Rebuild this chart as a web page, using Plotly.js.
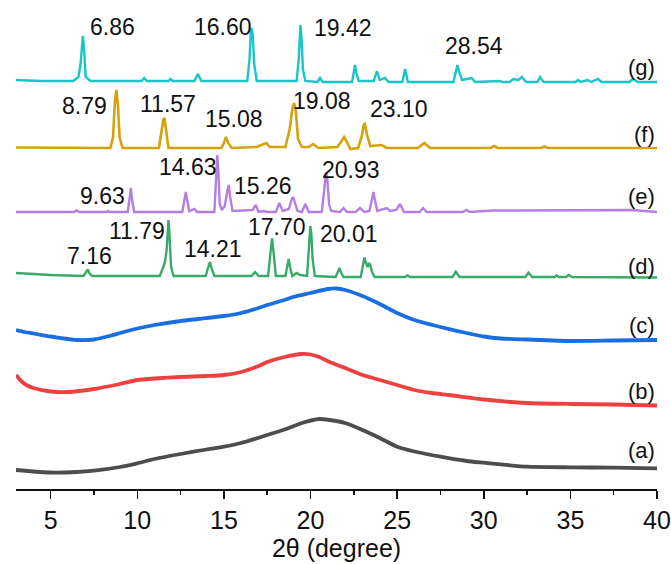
<!DOCTYPE html>
<html>
<head>
<meta charset="utf-8">
<script src="https://cdn.plot.ly/plotly-3.0.1.min.js"></script>
<style>html,body{margin:0;padding:0;background:#fff;}#chart{width:671px;height:564px;}</style>
</head>
<body>
<div id="chart"></div>
<script>
// (g)
const gX = [3, 4.5, 6.3, 6.6, 6.72, 6.8, 6.86, 6.93, 7.02, 7.3, 10.25, 10.4, 10.55, 11.8, 11.92, 12.05, 13.3, 13.5, 13.7, 16.35, 16.48, 16.55, 16.6, 16.66, 16.75, 16.9, 19.2, 19.32, 19.38, 19.42, 19.48, 19.56, 19.7, 20.4, 20.55, 20.7, 22.4, 22.5, 22.57, 22.65, 22.78, 23.65, 23.83, 24.0, 24.3, 24.5, 25.3, 25.46, 25.62, 28.25, 28.4, 28.48, 28.56, 28.75, 29.3, 29.5, 30.9, 31.1, 31.5, 31.7, 32.0, 32.2, 32.45, 33.1, 33.25, 33.45, 35.3, 35.45, 35.6, 36.0, 36.2, 36.6, 36.8, 38.4, 38.6, 38.9, 40];
const gY = [409, 408, 408, 412, 424, 440, 453, 440, 412, 408, 408, 411, 408, 408, 410, 408, 408, 415, 408, 408, 430, 455, 461, 455, 425, 408, 408, 430, 455, 464, 452, 420, 408, 407, 411, 407, 407, 416, 424, 416, 408, 408, 418, 409, 411, 407, 407, 420, 407, 407, 418, 424, 418, 409, 411, 407, 408, 407, 407, 410, 409, 412, 407, 407, 412, 407, 407, 409, 407, 409, 407, 410, 407, 407, 410, 407, 407];
// (f)
const fX = [3, 6, 8.45, 8.6, 8.7, 8.79, 8.88, 8.98, 9.15, 11.25, 11.42, 11.5, 11.57, 11.65, 11.8, 14.85, 15.0, 15.12, 15.25, 15.45, 16.9, 17.3, 17.45, 17.65, 18.55, 18.8, 18.95, 19.05, 19.15, 19.28, 19.5, 19.9, 20.15, 20.45, 21.55, 21.8, 21.94, 22.1, 22.3, 22.75, 22.95, 23.07, 23.14, 23.25, 23.45, 24.1, 24.4, 26.2, 26.57, 26.9, 30.4, 30.6, 30.8, 33.3, 33.5, 33.7, 40];
const fY = [341.5, 341, 341, 352, 385, 399, 385, 352, 341, 341, 358, 369, 371, 362, 341, 341, 346, 352, 346, 341, 342, 345, 346, 342, 342, 360, 380, 386, 378, 350, 342, 342, 345, 341, 342, 348, 352, 347, 340, 341, 352, 364, 365, 355, 343, 344, 341, 341, 346, 341, 341, 343, 341, 341, 342.5, 341, 341];
// (e)
const eX = [3, 6.35, 6.5, 6.65, 8.2, 8.3, 8.4, 9.45, 9.55, 9.63, 9.71, 9.82, 12.6, 12.72, 12.8, 12.88, 13.0, 13.3, 13.45, 14.45, 14.56, 14.62, 14.68, 14.76, 14.88, 15.05, 15.2, 15.28, 15.36, 15.5, 16.65, 16.84, 17.0, 17.3, 17.5, 18.0, 18.2, 18.4, 18.75, 18.92, 19.0, 19.1, 19.25, 19.5, 19.7, 19.9, 20.65, 20.8, 20.9, 20.97, 21.07, 21.2, 21.7, 21.9, 22.1, 22.6, 22.86, 23.1, 23.4, 23.55, 23.63, 23.72, 23.85, 24.4, 24.6, 24.95, 25.17, 25.4, 26.3, 26.5, 26.7, 28.8, 29.0, 29.2, 30.5, 31.9, 36.5, 37.7, 38.55, 40];
const eY = [277, 277, 278.5, 277, 277, 278, 277, 277, 290, 301, 288, 277, 277, 290, 297, 289, 278, 280, 277, 277, 310, 334, 318, 285, 279, 283, 298, 304, 292, 278, 279, 284, 277, 278, 277, 277, 286, 278, 280, 290, 292, 286, 278, 277, 285, 277, 277, 300, 317, 310, 285, 278, 277, 281, 277, 277, 281, 277, 278, 290, 297, 289, 278, 281, 278, 279, 285, 277, 277, 281, 277, 277, 279, 277, 278.5, 278.5, 278.5, 278.5, 279, 277];
// (d)
const dX = [3, 5, 6.9, 7.05, 7.14, 7.23, 7.4, 9, 11.3, 11.5, 11.6, 11.7, 11.76, 11.8, 11.86, 11.95, 12.1, 13.95, 14.1, 14.2, 14.3, 14.45, 16.6, 16.8, 17.0, 17.55, 17.7, 17.78, 17.86, 18.0, 18.55, 18.68, 18.74, 18.82, 18.95, 19.2, 19.4, 19.8, 19.92, 19.99, 20.05, 20.12, 20.25, 21.45, 21.6, 21.67, 21.75, 21.9, 22.9, 23.03, 23.11, 23.2, 23.3, 23.38, 23.45, 23.55, 23.7, 25.45, 25.6, 25.75, 28.2, 28.39, 28.6, 32.4, 32.58, 32.8, 34.1, 34.2, 34.35, 34.75, 34.9, 35.1, 40];
const dY = [216, 214, 213, 217, 219.5, 216, 213, 213, 213, 222, 227, 240, 262, 269, 255, 222, 213, 213, 222, 227, 220, 213, 213, 217, 213, 213, 238, 250.5, 238, 213, 213, 224, 230, 222, 213, 216, 214, 213, 245, 263, 255, 230, 213, 212, 218, 221, 217, 212, 212, 226, 231.5, 226, 222, 226, 224, 217, 212, 212, 213.5, 212, 212, 217.3, 212, 212, 216.3, 212, 212, 213.5, 212, 212, 214, 212, 211.5];
// (c)
const cX = [3, 3.5, 4, 5, 6, 6.5, 7.5, 8.5, 9, 10, 11, 12.5, 13.5, 15, 16, 17, 17.5, 18.5, 19, 20, 21, 21.5, 22, 23, 24, 25, 26, 27.5, 29, 30, 31, 32.5, 35, 37.5, 40];
const cY = [159, 157, 155.5, 152.5, 150, 149, 149.5, 153.5, 156, 160.5, 164, 168, 170, 173, 176, 181, 184, 189, 192, 196, 200, 200.5, 199, 193, 185, 176, 169, 162, 156, 152.5, 150.5, 149.5, 148, 148.5, 149];
// (b)
const bX = [3, 3.3, 3.6, 4, 5, 6, 7.5, 9, 10, 11, 12.5, 14, 15, 16, 17, 17.5, 18.5, 19.5, 20, 20.5, 21.1, 22, 23, 24, 25, 26, 27, 28, 30, 32.5, 35, 37.5, 40];
const bY = [114, 108, 104, 101, 97.5, 97, 100, 105, 109, 110.5, 112, 113, 114, 117, 123, 127, 132, 135, 134.5, 132, 127, 121, 114, 109, 104, 99, 96, 94, 89.5, 86, 85, 84.5, 83.5];
// (a)
const aX = [3, 4, 5, 6.5, 7.5, 9, 10, 11, 12.5, 14, 15, 16, 17.5, 18.5, 19.5, 20.5, 21.1, 22, 23, 24, 25, 26, 27.5, 29, 30, 32.5, 35, 37.5, 40];
const aY = [19, 17.5, 16.5, 17, 18.3, 22, 25.7, 30, 35, 39.5, 42.3, 46, 54, 59.5, 66, 70, 69, 66, 59, 51, 42.3, 37.5, 32.3, 28, 26.3, 22.3, 21.7, 21.3, 20.7];

const sampleLabels = ['(a)', '(b)', '(c)', '(d)', '(e)', '(f)', '(g)'];
const sampleLabelY = [39, 98, 164, 223, 293, 355, 422];

const peakText = ['6.86', '16.60', '19.42', '28.54', '8.79', '11.57', '15.08', '19.08', '23.10', '14.63', '9.63', '15.26', '20.93', '11.79', '7.16', '14.21', '17.70', '20.01'];
const peakLabelX = [7.16, 13.14, 20.07, 27.64, 5.54, 10.04, 13.8, 18.88, 23.32, 11.12, 6.56, 15.45, 20.55, 8.24, 5.83, 12.6, 16.26, 20.45];
const peakLabelY = [462, 462, 461.5, 443, 383, 385, 370, 388, 380, 322.5, 293.5, 303, 319, 258, 233, 240, 262.5, 255.5];

const FONT = 'Liberation Sans, Arial, Helvetica, sans-serif';

const series = [
  {x: aX, y: aY, color: '#4d4d4d', w: 3.8, shape: 'spline'},
  {x: bX, y: bY, color: '#ee4040', w: 3.8, shape: 'spline'},
  {x: cX, y: cY, color: '#1a6ee0', w: 3.8, shape: 'spline'},
  {x: dX, y: dY, color: '#3aaa6a', w: 2.4, shape: 'linear'},
  {x: eX, y: eY, color: '#b67ee2', w: 2.4, shape: 'linear'},
  {x: fX, y: fY, color: '#d6a20c', w: 2.6, shape: 'linear'},
  {x: gX, y: gY, color: '#18c5c8', w: 2.4, shape: 'linear'}
];

const data = series.map(s => ({
  type: 'scatter', mode: 'lines', x: s.x, y: s.y,
  line: {color: s.color, width: s.w, shape: s.shape, smoothing: 0.5},
  hoverinfo: 'skip', showlegend: false
}));

const annotations = [];
peakText.forEach((t, i) => annotations.push({
  x: peakLabelX[i], y: peakLabelY[i], xref: 'x', yref: 'y', text: t,
  showarrow: false, xanchor: 'left', yanchor: 'middle',
  font: {family: FONT, size: 23, color: '#111'}
}));
sampleLabels.forEach((t, i) => annotations.push({
  x: 40, y: sampleLabelY[i], xref: 'x', yref: 'y', text: t,
  showarrow: false, xanchor: 'right', yanchor: 'middle',
  font: {family: FONT, size: 22, color: '#111'}
}));

const layout = {
  width: 671, height: 564,
  margin: {l: 16, r: 14, t: 0, b: 75},
  paper_bgcolor: '#fff', plot_bgcolor: '#fff',
  xaxis: {
    range: [3, 40], tick0: 0, dtick: 5,
    ticks: 'outside', ticklen: 8, tickwidth: 1.5, tickcolor: '#111',
    showline: true, linecolor: '#111', linewidth: 1.5,
    showgrid: false, zeroline: false,
    tickfont: {family: FONT, size: 25, color: '#111'},
    minor: {dtick: 2.5, ticks: 'outside', ticklen: 4, tickwidth: 1.5, tickcolor: '#111', showgrid: false},
    title: {text: '2θ (degree)', font: {family: FONT, size: 25, color: '#111'}, standoff: 6}
  },
  yaxis: {visible: false, range: [0, 489], showgrid: false, zeroline: false},
  annotations: annotations
};

Plotly.newPlot('chart', data, layout, {staticPlot: true, displayModeBar: false});
</script>
</body>
</html>
